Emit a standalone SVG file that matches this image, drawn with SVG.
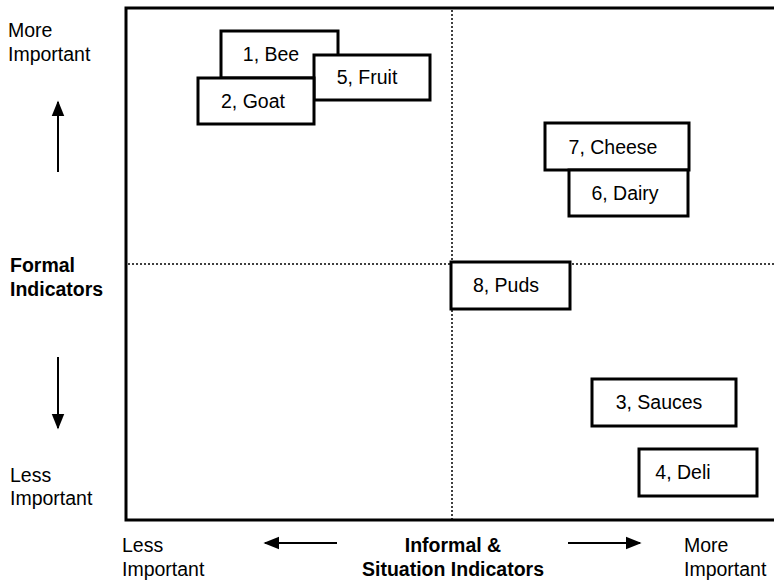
<svg xmlns="http://www.w3.org/2000/svg" width="774" height="581" viewBox="0 0 774 581">
<style>
text{font-family:"Liberation Sans",Arial,sans-serif;font-size:19.5px;fill:#000}
.b{font-weight:bold}
.m{text-anchor:middle}
.box{fill:#fff;stroke:#000;stroke-width:3}
.dot{stroke:#000;stroke-width:1.5;stroke-dasharray:2 2;fill:none}
.ax{stroke:#000;stroke-width:2;fill:none}
</style>
<defs>
<marker id="ah" viewBox="0 0 10 10" refX="9" refY="5" markerWidth="8" markerHeight="8" orient="auto" markerUnits="strokeWidth">
<path d="M0,1 L10,5 L0,9 z" fill="#000"/>
</marker>
</defs>
<rect width="774" height="581" fill="#fff"/>
<g id="frame">
<path d="M780,8 L126,8 L126,520 L780,520" fill="none" stroke="#000" stroke-width="3"/>
<line class="dot" x1="452" y1="10" x2="452" y2="519"/>
<line class="dot" x1="128" y1="264" x2="774" y2="264"/>
</g>
<g id="labels">
<text x="8" y="37">More</text>
<text x="8" y="61">Important</text>
<text x="10" y="272" class="b">Formal</text>
<text x="10" y="296" class="b">Indicators</text>
<text x="10" y="482">Less</text>
<text x="10" y="505">Important</text>
<text x="122" y="552">Less</text>
<text x="122" y="576">Important</text>
<text x="453" y="552" class="b m">Informal &amp;</text>
<text x="453" y="576" class="b m">Situation Indicators</text>
<text x="684" y="552">More</text>
<text x="684" y="576">Important</text>
</g>
<g id="connectors">
<line class="ax" x1="58" y1="172" x2="58" y2="102" marker-end="url(#ah)"/>
<line class="ax" x1="58" y1="357" x2="58" y2="428" marker-end="url(#ah)"/>
<line class="ax" x1="337" y1="543" x2="265" y2="543" marker-end="url(#ah)"/>
<line class="ax" x1="568" y1="543" x2="640" y2="543" marker-end="url(#ah)"/>
</g>
<g id="n1"><rect class="box" x="221" y="31" width="117" height="47"/><text x="271" y="61" class="m">1, Bee</text></g>
<g id="n5"><rect class="box" x="314" y="55" width="116" height="45"/><text x="367" y="84" class="m">5, Fruit</text></g>
<g id="n2"><rect class="box" x="198" y="78" width="116" height="46"/><text x="253" y="108" class="m">2, Goat</text></g>
<g id="n7"><rect class="box" x="545" y="123" width="144" height="47"/><text x="613" y="154" class="m">7, Cheese</text></g>
<g id="n6"><rect class="box" x="569" y="170" width="119" height="46"/><text x="625" y="200" class="m">6, Dairy</text></g>
<g id="n8"><rect class="box" x="451" y="262" width="119" height="47"/><text x="506" y="292" class="m">8, Puds</text></g>
<g id="n3"><rect class="box" x="592" y="379" width="144" height="47"/><text x="659" y="409" class="m">3, Sauces</text></g>
<g id="n4"><rect class="box" x="639" y="449" width="118" height="47"/><text x="683" y="479" class="m">4, Deli</text></g>
</svg>
